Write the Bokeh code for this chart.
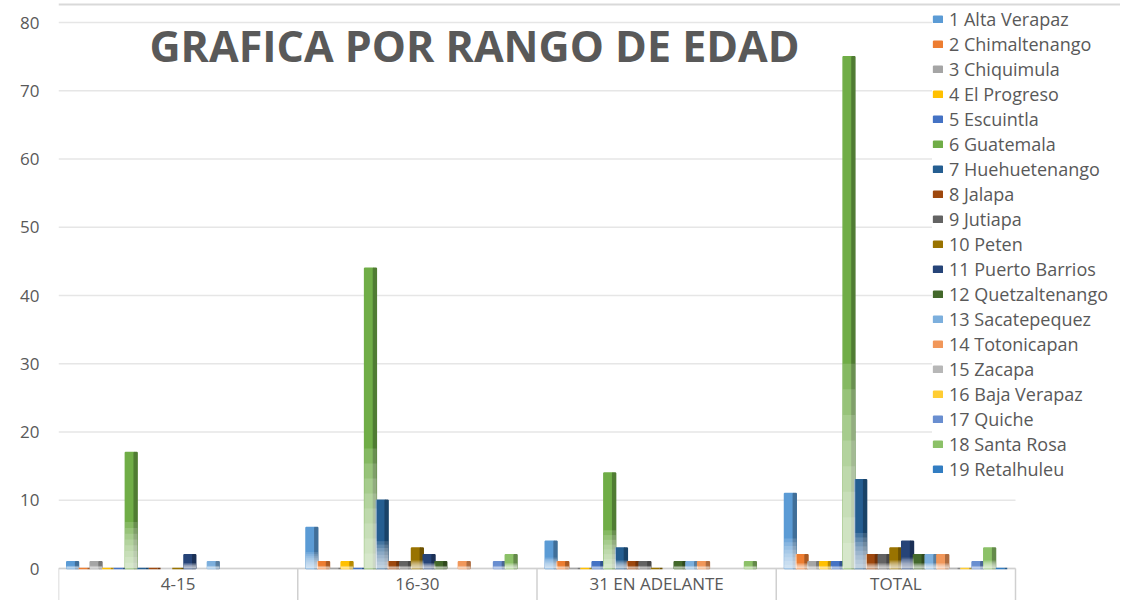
from bokeh.plotting import figure
from bokeh.models import ColumnDataSource, Range1d, FixedTicker, Legend, LegendItem, Label, Span
from bokeh.core.properties import value
from bokeh.embed import file_html
from bokeh.resources import INLINE

nan = float("nan")

title_text = "GRAFICA POR RANGO DE EDAD"
categories = ["4-15", "16-30", "31 EN ADELANTE", "TOTAL"]
departments = [
    "1 Alta Verapaz", "2 Chimaltenango", "3 Chiquimula", "4 El Progreso", "5 Escuintla",
    "6 Guatemala", "7 Huehuetenango", "8 Jalapa", "9 Jutiapa", "10 Peten",
    "11 Puerto Barrios", "12 Quetzaltenango", "13 Sacatepequez", "14 Totonicapan",
    "15 Zacapa", "16 Baja Verapaz", "17 Quiche", "18 Santa Rosa", "19 Retalhuleu",
]
# values per age range, one entry per department (nan = empty cell)
r4_15 = [1, 0, 1, 0, 0, 17, 0, 0, nan, 0, 2, nan, 1, nan, nan, nan, nan, nan, nan]
r16_30 = [6, 1, 0, 1, 0, 44, 10, 1, 1, 3, 2, 1, nan, 1, nan, nan, 1, 2, nan]
r31_mas = [4, 1, 0, 0, 1, 14, 3, 1, 1, 0, nan, 1, 1, 1, nan, nan, nan, 1, nan]
total = [11, 2, 1, 1, 1, 75, 13, 2, 2, 3, 4, 2, 2, 2, 0, 0, 1, 3, 0]
y_ticks = [0, 10, 20, 30, 40, 50, 60, 70, 80]

colors = [
    "#5B9BD5", "#ED7D31", "#A5A5A5", "#FFC000", "#4472C4", "#70AD47",
    "#255E91", "#9E480E", "#636363", "#997300", "#264478", "#43682B",
    "#7CAFDD", "#F1975A", "#B7B7B7", "#FFCD33", "#698ED0", "#8CC168", "#327DC2",
]

groups = [r4_15, r16_30, r31_mas, total]
n = len(departments)
ng = len(categories)


def darker(hex_color, f=0.72):
    h = hex_color.lstrip("#")
    r, g, b = (int(h[i:i + 2], 16) for i in (0, 2, 4))
    return "#%02x%02x%02x" % (int(r * f), int(g * f), int(b * f))


TEXT = "#595959"
FONT = "Open Sans"

# layout (pixels): frame spans x 58..1120, y 0..600; value 0 at y=568, 80 at y=22
Y0_PX, Y80_PX = 568, 22
px_per_unit = (Y0_PX - Y80_PX) / 80.0
group_px = 239.25
p = figure(width=1120, height=600, output_backend="svg", toolbar_location=None,
           x_range=Range1d(0, (1120 - 58) / group_px),
           y_range=Range1d(-(600 - Y0_PX) / px_per_unit, 80 + Y80_PX / px_per_unit),
           min_border_left=58, min_border_right=0, min_border_top=0, min_border_bottom=0,
           background_fill_color="white", border_fill_color="white")
p.outline_line_color = None
p.xaxis.visible = False
p.xgrid.grid_line_color = None
p.ygrid.grid_line_color = None

# chart border line at the very top
p.add_layout(Span(location=80 + (Y80_PX - 4) / px_per_unit, dimension="width",
                  line_color="#D9D9D9", line_width=2))

# horizontal gridlines (only across the category area)
grid_src = ColumnDataSource(dict(x0=[0] * len(y_ticks), x1=[ng] * len(y_ticks), y=y_ticks))
p.segment(x0="x0", y0="y", x1="x1", y1="y", source=grid_src, line_color="#E6E6E6", line_width=1.5)
# category axis line and separators
p.segment(x0=[0], y0=[0], x1=[ng], y1=[0], line_color="#D0D0D0", line_width=1.5)
sep = list(range(ng + 1))
p.segment(x0=sep, y0=[0] * len(sep), x1=sep, y1=[p.y_range.start] * len(sep),
          line_color="#D0D0D0", line_width=1.5)
p.text(x=[g + 0.5 for g in range(ng)], y=[0] * ng, text=categories, y_offset=15,
       text_align="center", text_baseline="middle", text_font=value(FONT),
       text_font_size="17px", text_color=TEXT)

pitch = 0.049
front_w = 0.037
side_w = 0.012
offset = (1 - n * pitch) / 2

items = []
all_x, all_top = [], []
for k in range(n):
    lefts = [g + offset + k * pitch for g in range(ng)]
    tops = [groups[g][k] for g in range(ng)]
    src = ColumnDataSource(dict(
        xf=[l + front_w / 2 for l in lefts],
        xs=[l + front_w + side_w / 2 for l in lefts],
        top=tops,
    ))
    c = colors[k]
    d = darker(c)
    r = p.vbar(x="xf", top="top", bottom=0, width=front_w, source=src,
               fill_color=c, line_color=c, line_width=1.5)
    p.vbar(x="xs", top="top", bottom=0, width=side_w, source=src,
           fill_color=d, line_color=d, line_width=1.5)
    items.append(LegendItem(label=departments[k], renderers=[r]))
    all_x += [l + (front_w + side_w) / 2 for l in lefts]
    all_top += tops

# soft white fade towards the base of every column
for frac in [0.40, 0.35, 0.30, 0.25, 0.20, 0.15, 0.10, 0.05]:
    fsrc = ColumnDataSource(dict(x=all_x, top=[t * frac for t in all_top]))
    p.vbar(x="x", top="top", bottom=0, width=front_w + side_w + 0.003, source=fsrc,
           fill_color="white", fill_alpha=0.15, line_color=None)

p.yaxis.ticker = FixedTicker(ticks=y_ticks)
p.yaxis.axis_line_color = None
p.yaxis.major_tick_line_color = None
p.yaxis.minor_tick_line_color = None
p.yaxis.major_label_standoff = 13
p.yaxis.major_label_text_font = FONT
p.yaxis.major_label_text_font_size = "17px"
p.yaxis.major_label_text_color = TEXT

p.add_layout(Label(x=(474 - 58) / group_px, y=80 - (45 - Y80_PX) / px_per_unit, text=title_text,
                   text_align="center", text_baseline="middle", text_font=FONT,
                   text_font_style="bold", text_font_size="43px", text_color=TEXT))

legend = Legend(items=items, location=(874, 119), orientation="vertical",
                label_text_font=FONT, label_text_font_size="18px",
                label_text_color=TEXT, glyph_width=11, glyph_height=8,
                label_standoff=6, spacing=0, padding=0, margin=0, label_height=25,
                border_line_alpha=0, background_fill_color="white", background_fill_alpha=1)
p.add_layout(legend)

open("out.html", "w").write(file_html(p, INLINE))
